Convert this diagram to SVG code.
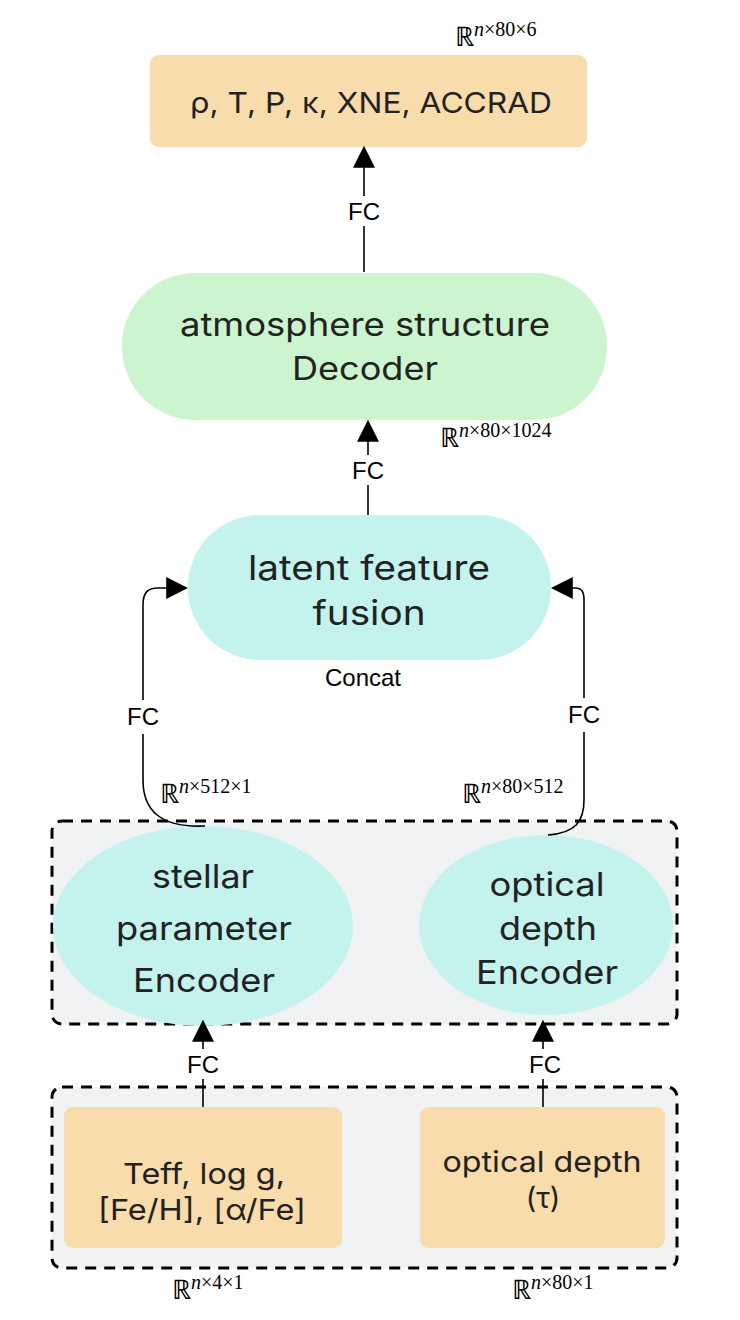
<svg xmlns="http://www.w3.org/2000/svg" width="740" height="1320" viewBox="0 0 740 1320">
<style>
.t{font-family:Inter,"Noto Sans",sans-serif;fill:#222;text-anchor:middle}
.fc{font-family:"Liberation Sans",Arial,sans-serif;font-size:24px;fill:#000;text-anchor:middle}
.m{font-family:"Liberation Serif","Times New Roman",serif;font-size:27px;fill:#000}
.m tspan.s{font-size:20px}
.c{fill:none;stroke:#000;stroke-width:1.6}
.d{fill:#f1f2f4;stroke:#000;stroke-width:3;stroke-dasharray:11 8}
.o{fill:#f8dcab}
</style>
<defs>
<marker id="b" viewBox="0 0 10 10" refX="9" refY="5" markerWidth="22" markerHeight="22" markerUnits="userSpaceOnUse" orient="auto"><path d="M0,0L10,5L0,10z" fill="#000"/></marker>
</defs>
<g id="inputs-frame"><rect class="d" x="52" y="1087" width="625" height="181" rx="10"/></g>
<g id="encoders-frame"><rect class="d" x="52" y="821" width="625" height="203" rx="10"/></g>
<g id="output"><rect class="o" x="150" y="55" width="437" height="92" rx="9"/><text class="t" x="371" y="113" font-size="29" textLength="362" lengthAdjust="spacingAndGlyphs">ρ, T, P, κ, XNE, ACCRAD</text></g>
<g id="decoder"><rect x="122" y="273" width="485" height="147" rx="73" fill="#ccf5cf"/><text class="t" x="365" y="336" font-size="32" textLength="370" lengthAdjust="spacingAndGlyphs">atmosphere structure</text><text class="t" x="365" y="380" font-size="32" textLength="146" lengthAdjust="spacingAndGlyphs">Decoder</text></g>
<g id="fusion"><rect x="188" y="515" width="363" height="145" rx="72" fill="#c4f2ec"/><text class="t" x="369" y="580" font-size="34" textLength="242" lengthAdjust="spacingAndGlyphs">latent feature</text><text class="t" x="369" y="625" font-size="34" textLength="113" lengthAdjust="spacingAndGlyphs">fusion</text></g>
<g id="stellar-encoder"><ellipse cx="203" cy="926" rx="150" ry="100" fill="#c4f2ec"/><text class="t" x="203" y="888" font-size="33" textLength="102" lengthAdjust="spacingAndGlyphs">stellar</text><text class="t" x="204" y="940" font-size="33" textLength="176" lengthAdjust="spacingAndGlyphs">parameter</text><text class="t" x="204" y="992" font-size="33" textLength="142" lengthAdjust="spacingAndGlyphs">Encoder</text></g>
<g id="optical-encoder"><ellipse cx="546" cy="925" rx="127" ry="90" fill="#c4f2ec"/><text class="t" x="547" y="896" font-size="33" textLength="115" lengthAdjust="spacingAndGlyphs">optical</text><text class="t" x="548" y="940" font-size="33" textLength="98" lengthAdjust="spacingAndGlyphs">depth</text><text class="t" x="547" y="984" font-size="33" textLength="142" lengthAdjust="spacingAndGlyphs">Encoder</text></g>
<g id="stellar-input"><rect class="o" x="64" y="1107" width="278" height="141" rx="9"/><text class="t" x="204" y="1184" font-size="29" textLength="162" lengthAdjust="spacingAndGlyphs">Teff, log g,</text><text class="t" x="202" y="1220" font-size="29" textLength="208" lengthAdjust="spacingAndGlyphs">[Fe/H], [α/Fe]</text></g>
<g id="tau-input"><rect class="o" x="420" y="1107" width="245" height="141" rx="9"/><text class="t" x="542" y="1172" font-size="29" textLength="199" lengthAdjust="spacingAndGlyphs">optical depth</text><text class="t" x="543" y="1208" font-size="29">(τ)</text></g>
<g id="connectors">
<path class="c" d="M364,272V148" marker-end="url(#b)"/>
<rect x="340" y="196" width="48" height="30" fill="#fff"/>
<path class="c" d="M368,515V422" marker-end="url(#b)"/>
<rect x="344" y="455" width="48" height="30" fill="#fff"/>
<path class="c" d="M205,826C160,828 143,810 143,780V605C143,592 148,588 158,588H186" marker-end="url(#b)"/>
<rect x="118" y="700" width="50" height="34" fill="#fff"/>
<path class="c" d="M548,835C575,833 584,822 584,800V600C584,592 582,588 575,588H553" marker-end="url(#b)"/>
<rect x="560" y="698" width="50" height="34" fill="#fff"/>
<path class="c" d="M203,1107V1022" marker-end="url(#b)"/>
<rect x="180" y="1049" width="46" height="30" fill="#fff"/>
<path class="c" d="M543,1107V1022" marker-end="url(#b)"/>
<rect x="522" y="1049" width="46" height="30" fill="#fff"/>
<text class="fc" x="364" y="220">FC</text>
<text class="fc" x="368" y="479">FC</text>
<text class="fc" x="143" y="725">FC</text>
<text class="fc" x="584" y="723">FC</text>
<text class="fc" x="203" y="1073">FC</text>
<text class="fc" x="545" y="1073">FC</text>
<text class="fc" x="363" y="686">Concat</text>
</g>
<g id="dims">
<text class="m" x="455" y="46">ℝ<tspan class="s" dy="-10" font-style="italic">n</tspan><tspan class="s">×80×6</tspan></text>
<text class="m" x="440" y="447">ℝ<tspan class="s" dy="-10" font-style="italic">n</tspan><tspan class="s">×80×1024</tspan></text>
<text class="m" x="160" y="803">ℝ<tspan class="s" dy="-10" font-style="italic">n</tspan><tspan class="s">×512×1</tspan></text>
<text class="m" x="462" y="803">ℝ<tspan class="s" dy="-10" font-style="italic">n</tspan><tspan class="s">×80×512</tspan></text>
<text class="m" x="172" y="1299">ℝ<tspan class="s" dy="-10" font-style="italic">n</tspan><tspan class="s">×4×1</tspan></text>
<text class="m" x="512" y="1299">ℝ<tspan class="s" dy="-10" font-style="italic">n</tspan><tspan class="s">×80×1</tspan></text>
</g>
</svg>
